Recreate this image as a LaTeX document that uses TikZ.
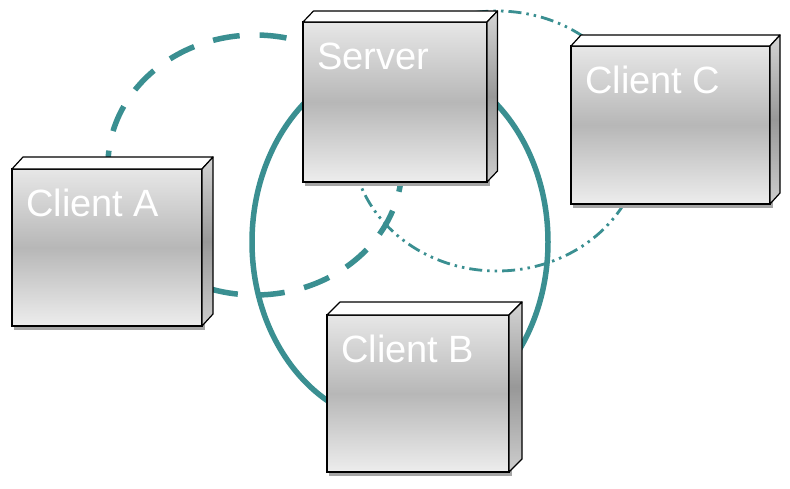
\documentclass[tikz,border=0pt]{standalone}
\usepackage{fontspec}
\setmainfont{Liberation Sans}
\usetikzlibrary{calc}
\definecolor{linkteal}{RGB}{58,143,145}
\definecolor{fronttop}{RGB}{231,231,231}
\definecolor{frontmid}{RGB}{183,183,183}
\definecolor{frontbot}{RGB}{237,237,237}
\definecolor{sidetop}{RGB}{212,212,212}
\definecolor{sidemid}{RGB}{152,152,152}
\definecolor{sidebot}{RGB}{205,205,205}
\definecolor{shadowgray}{RGB}{165,165,165}
\tikzset{
  frontbox/.style={draw=black, line width=1.2pt, inner sep=0pt, outer sep=0pt,
    top color=fronttop, bottom color=frontbot, middle color=frontmid},
  topface/.style={draw=black, line width=1.2pt, fill=white, line join=round},
  sideface/.style={draw=black, line width=1.2pt, line join=round,
    top color=sidetop, bottom color=sidebot, middle color=sidemid},
  boxlabel/.style={text=white, inner sep=0pt, anchor=base west,
    font=\fontsize{38}{45}\selectfont},
  solidlink/.style={draw=linkteal, line width=5.5pt},
  dashlink/.style={draw=linkteal, line width=5.5pt, dash pattern=on 27pt off 20pt},
  dotlink/.style={draw=linkteal, line width=2.8pt,
    dash pattern=on 13pt off 5pt on 2.5pt off 5pt on 2.5pt off 5pt},
}
% #1 name, #2 x1, #3 y1, #4 x2, #5 y2, #6 dx, #7 dy, #8 label
\newcommand\nodebox[8]{%
  \fill[shadowgray] (#2+2,#3+3) rectangle (#4+2.5,#5+3.5);
  \node[frontbox, minimum width={(#4-#2)*1pt}, minimum height={(#5-#3)*1pt}]
    (#1) at ({(#2+#4)/2},{(#3+#5)/2}) {};
  \draw[topface] (#1.north west) -- ++(#6,-#7) -- ($(#1.north east)+(#6,-#7)$)
    -- (#1.north east) -- cycle;
  \shadedraw[sideface] (#1.north east) -- ++(#6,-#7) -- ($(#1.south east)+(#6,-#7)$)
    -- (#1.south east) -- cycle;
  \node[boxlabel] (#1-label) at ($(#1.north west)+(14,47.5)$) {#8};
}
\begin{document}
\begin{tikzpicture}[x=1pt,y=-1pt]
\fill[white] (0,0) rectangle (790,488);
\useasboundingbox (0,0) rectangle (790,488);
% connectors (drawn behind the boxes)
\coordinate (ringC) at (497,141);
\coordinate (ringA) at (255,165);
\coordinate (ringB) at (400,242);
\draw[dotlink] (ringC) ellipse [x radius=145, y radius=130];
\draw[solidlink] (ringB) ellipse [x radius=148, y radius=182];
\draw[dashlink] (ringA) ellipse [x radius=147, y radius=130];
% boxes
\nodebox{server}{303}{22}{487}{182}{10.5}{11}{Server}
\nodebox{clientA}{12}{169}{202}{326}{11}{12}{Client A}
\nodebox{clientC}{571}{46}{770}{204}{10}{11}{Client C}
\nodebox{clientB}{327}{315}{509}{472}{13}{13}{Client B}
\end{tikzpicture}
\end{document}
